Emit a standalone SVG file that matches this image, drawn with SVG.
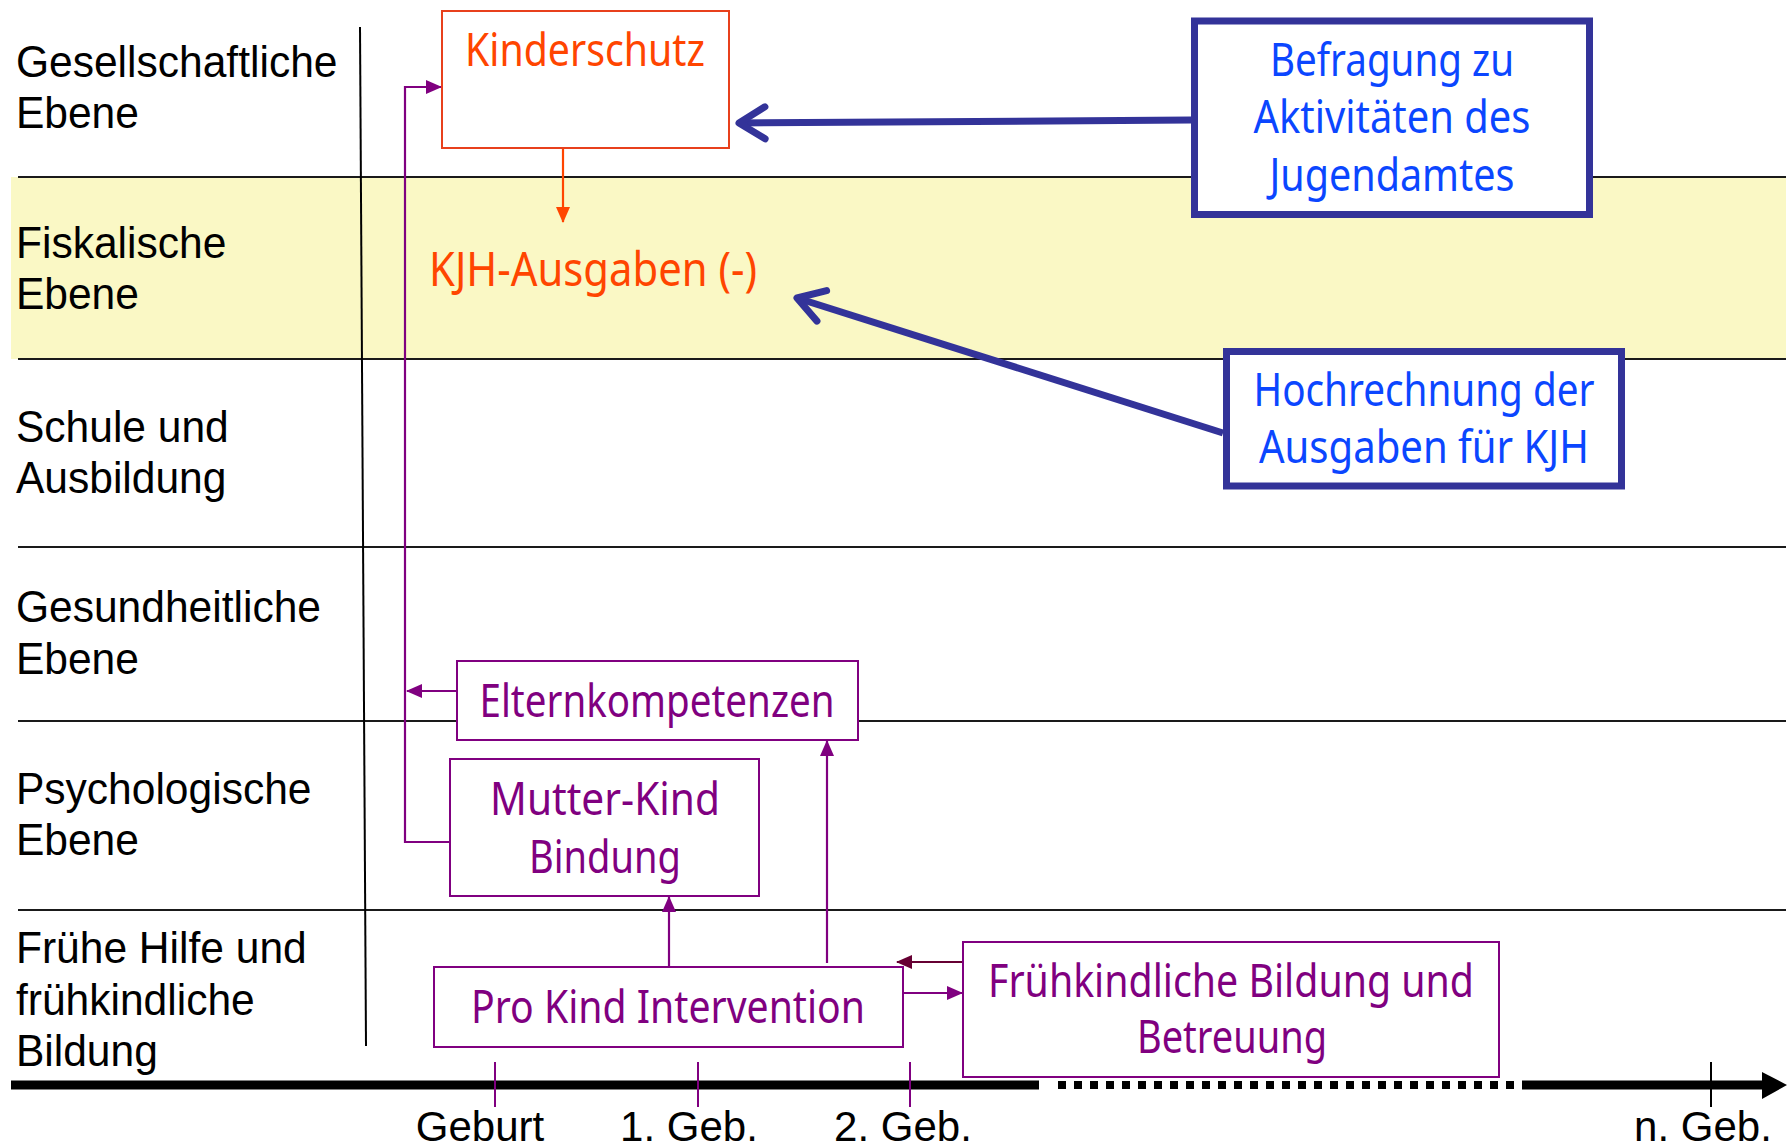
<svg xmlns="http://www.w3.org/2000/svg" width="1792" height="1147" viewBox="0 0 1792 1147">
<style>
.lbl{font-family:"Liberation Sans",Arial,sans-serif;font-size:42px;fill:#000}
.row{font-size:44px}
.hs{font-family:"Noto Sans","Open Sans",sans-serif;font-size:45px}
.red{fill:#FF4500}
.blue{fill:#0B46FF}
.pur{fill:#800080}
.sep{stroke:#1a1a1a;stroke-width:2}
.pbox{fill:#fff;stroke:#800080;stroke-width:2}
.bbox{fill:#fff;stroke:#333399;stroke-width:7}
.pline{stroke:#800080;stroke-width:2.2;fill:none}
</style>
<defs>
<marker id="ap" markerUnits="userSpaceOnUse" markerWidth="16" markerHeight="14" viewBox="0 0 16 14" refX="15" refY="7" orient="auto"><path d="M0,0 L16,7 L0,14 z" fill="#800080"/></marker>
<marker id="am" markerUnits="userSpaceOnUse" markerWidth="16" markerHeight="14" viewBox="0 0 16 14" refX="15" refY="7" orient="auto"><path d="M0,0 L16,7 L0,14 z" fill="#660033"/></marker>
<marker id="ar" markerUnits="userSpaceOnUse" markerWidth="16" markerHeight="14" viewBox="0 0 16 14" refX="15" refY="7" orient="auto"><path d="M0,0 L16,7 L0,14 z" fill="#FF4500"/></marker>
<marker id="ab" markerUnits="userSpaceOnUse" markerWidth="44" markerHeight="50" viewBox="-36 -25 44 50" refX="0" refY="0" orient="auto" overflow="visible"><path d="M-26,-16 L0,0 L-26,16" fill="none" stroke="#333399" stroke-width="7" stroke-linecap="round" stroke-linejoin="round"/></marker>
</defs>

<g id="background">
<rect x="11" y="177" width="1775" height="182" fill="#FAF8C5"/>
<line class="sep" x1="18" y1="177" x2="1786" y2="177"/>
<line class="sep" x1="18" y1="359" x2="1786" y2="359"/>
<line class="sep" x1="18" y1="547" x2="1786" y2="547"/>
<line class="sep" x1="18" y1="721" x2="1786" y2="721"/>
<line class="sep" x1="18" y1="910" x2="1786" y2="910"/>
<line x1="360" y1="27" x2="366" y2="1046" stroke="#000" stroke-width="2"/>
</g>

<g id="row-labels" transform="scale(0.967,1)">
<text class="lbl row" x="16.5" y="77">Gesellschaftliche</text>
<text class="lbl row" x="16.5" y="128">Ebene</text>
<text class="lbl row" x="16.5" y="258">Fiskalische</text>
<text class="lbl row" x="16.5" y="309">Ebene</text>
<text class="lbl row" x="16.5" y="442">Schule und</text>
<text class="lbl row" x="16.5" y="493">Ausbildung</text>
<text class="lbl row" x="16.5" y="622">Gesundheitliche</text>
<text class="lbl row" x="16.5" y="674">Ebene</text>
<text class="lbl row" x="16.5" y="804">Psychologische</text>
<text class="lbl row" x="16.5" y="855">Ebene</text>
<text class="lbl row" x="16.5" y="963">Frühe Hilfe und</text>
<text class="lbl row" x="16.5" y="1015">frühkindliche</text>
<text class="lbl row" x="16.5" y="1066">Bildung</text>
</g>

<g id="timeline">
<rect x="11" y="1080.5" width="1028" height="9" fill="#000"/>
<line x1="1058" y1="1085" x2="1516" y2="1085" stroke="#000" stroke-width="8" stroke-dasharray="8 8"/>
<rect x="1522" y="1080.5" width="242" height="9" fill="#000"/>
<path d="M1762,1072 L1787,1085 L1762,1099 z" fill="#000"/>
<line x1="495" y1="1062" x2="495" y2="1107" stroke="#800080" stroke-width="2"/>
<line x1="698" y1="1062" x2="698" y2="1107" stroke="#800080" stroke-width="2"/>
<line x1="910" y1="1062" x2="910" y2="1107" stroke="#800080" stroke-width="2"/>
<line x1="1711" y1="1062" x2="1711" y2="1107" stroke="#000" stroke-width="2"/>
<text class="lbl" x="480" y="1141" text-anchor="middle">Geburt</text>
<text class="lbl" x="689" y="1141" text-anchor="middle">1. Geb.</text>
<text class="lbl" x="903" y="1141" text-anchor="middle">2. Geb.</text>
<text class="lbl" x="1703" y="1141" text-anchor="middle">n. Geb.</text>
</g>

<g id="connectors">
<line x1="563" y1="148" x2="563" y2="222" stroke="#FF4500" stroke-width="2.2" marker-end="url(#ar)"/>
<polyline class="pline" points="450,842 405,842 405,87 441,87" marker-end="url(#ap)"/>
<line class="pline" x1="457" y1="691" x2="407" y2="691" marker-end="url(#ap)"/>
<line class="pline" x1="669" y1="967" x2="669" y2="897" marker-end="url(#ap)"/>
<line class="pline" x1="827" y1="963" x2="827" y2="741" marker-end="url(#ap)"/>
<line class="pline" x1="903" y1="993" x2="962" y2="993" marker-end="url(#ap)"/>
<line x1="963" y1="962" x2="897" y2="962" stroke="#660033" stroke-width="2.2" marker-end="url(#am)"/>
<line x1="1191" y1="120" x2="739" y2="123" stroke="#333399" stroke-width="7" marker-end="url(#ab)"/>
<line x1="1223" y1="433" x2="797" y2="298" stroke="#333399" stroke-width="7" marker-end="url(#ab)"/>
</g>

<g id="kinderschutz">
<rect x="442" y="11" width="287" height="137" fill="#fff" stroke="#E8401C" stroke-width="2"/>
<text class="hs red" x="585" y="66" text-anchor="middle" textLength="240" lengthAdjust="spacingAndGlyphs">Kinderschutz</text>
</g>

<g id="kjh-ausgaben">
<text class="hs red" x="429" y="286" style="font-size:47px" textLength="328" lengthAdjust="spacingAndGlyphs">KJH-Ausgaben (-)</text>
</g>

<g id="befragung">
<rect class="bbox" x="1194.5" y="21" width="395" height="193.5"/>
<text class="hs blue" x="1392" y="76" text-anchor="middle" textLength="244" lengthAdjust="spacingAndGlyphs">Befragung zu</text>
<text class="hs blue" x="1392" y="133" text-anchor="middle" textLength="277" lengthAdjust="spacingAndGlyphs">Aktivitäten des</text>
<text class="hs blue" x="1392" y="191" text-anchor="middle" textLength="245" lengthAdjust="spacingAndGlyphs">Jugendamtes</text>
</g>

<g id="hochrechnung">
<rect class="bbox" x="1226.5" y="351.5" width="395" height="134.5"/>
<text class="hs blue" x="1424" y="406" text-anchor="middle" textLength="341" lengthAdjust="spacingAndGlyphs">Hochrechnung der</text>
<text class="hs blue" x="1424" y="463" text-anchor="middle" textLength="330" lengthAdjust="spacingAndGlyphs">Ausgaben für KJH</text>
</g>

<g id="elternkompetenzen">
<rect class="pbox" x="457" y="661" width="401" height="79"/>
<text class="hs pur" x="657" y="717" text-anchor="middle" textLength="355" lengthAdjust="spacingAndGlyphs">Elternkompetenzen</text>
</g>

<g id="mutter-kind">
<rect class="pbox" x="450" y="759" width="309" height="137"/>
<text class="hs pur" x="605" y="815" text-anchor="middle" textLength="230" lengthAdjust="spacingAndGlyphs">Mutter-Kind</text>
<text class="hs pur" x="605" y="873" text-anchor="middle" textLength="152" lengthAdjust="spacingAndGlyphs">Bindung</text>
</g>

<g id="pro-kind">
<rect class="pbox" x="434" y="967" width="469" height="80"/>
<text class="hs pur" x="668" y="1023" text-anchor="middle" textLength="394" lengthAdjust="spacingAndGlyphs">Pro Kind Intervention</text>
</g>

<g id="fruehkindliche-bildung">
<rect class="pbox" x="963" y="942" width="536" height="135"/>
<text class="hs pur" x="1231" y="997" text-anchor="middle" textLength="486" lengthAdjust="spacingAndGlyphs">Frühkindliche Bildung und</text>
<text class="hs pur" x="1232" y="1053" text-anchor="middle" textLength="190" lengthAdjust="spacingAndGlyphs">Betreuung</text>
</g>
</svg>
